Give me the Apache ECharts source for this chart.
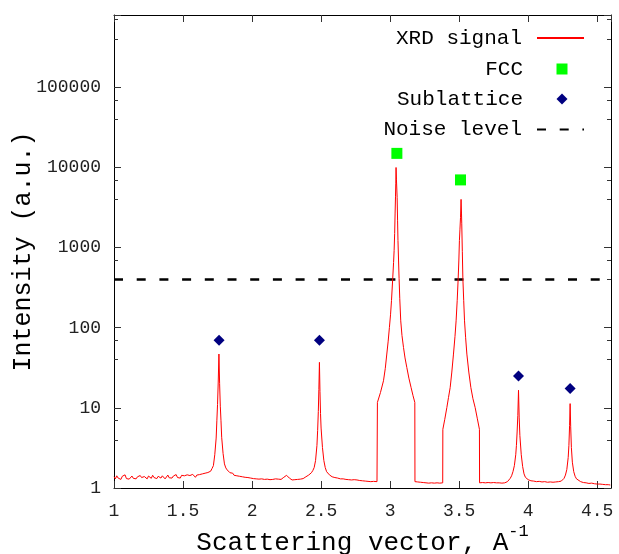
<!DOCTYPE html>
<html>
<head>
<meta charset="utf-8">
<script src="https://cdn.jsdelivr.net/npm/echarts@6/dist/echarts.min.js"></script>
<style>
  html, body { margin: 0; padding: 0; background: #fff; }
  #chart { width: 619px; height: 554px; }
</style>
</head>
<body>
<div id="chart"></div>
<script>
// XRD signal, [q, intensity]
const xrdSignal = [
  [1.00, 1.38], [1.01, 1.30], [1.02, 1.42], [1.03, 1.33], [1.04, 1.36], [1.05, 1.28], [1.06, 1.40],
  [1.07, 1.34], [1.08, 1.46], [1.09, 1.31], [1.10, 1.37], [1.11, 1.29], [1.12, 1.35], [1.13, 1.41],
  [1.14, 1.32], [1.15, 1.36], [1.16, 1.30], [1.17, 1.38], [1.18, 1.33], [1.19, 1.43], [1.20, 1.35],
  [1.21, 1.31], [1.22, 1.39], [1.23, 1.34], [1.24, 1.30], [1.25, 1.41], [1.26, 1.36], [1.27, 1.32],
  [1.28, 1.44], [1.29, 1.35], [1.30, 1.38], [1.31, 1.31], [1.32, 1.40], [1.33, 1.36], [1.34, 1.33],
  [1.35, 1.42], [1.36, 1.37], [1.37, 1.30], [1.38, 1.36], [1.39, 1.45], [1.40, 1.34], [1.41, 1.39],
  [1.42, 1.33], [1.43, 1.41], [1.44, 1.37], [1.45, 1.47], [1.46, 1.35], [1.47, 1.40], [1.48, 1.33],
  [1.49, 1.44], [1.50, 1.38], [1.51, 1.42], [1.52, 1.35], [1.53, 1.46], [1.54, 1.39], [1.55, 1.43],
  [1.56, 1.37], [1.57, 1.48], [1.58, 1.40], [1.59, 1.36], [1.60, 1.45], [1.61, 1.42], [1.62, 1.47],
  [1.63, 1.40], [1.64, 1.50], [1.65, 1.46], [1.66, 1.53], [1.67, 1.49], [1.68, 1.56], [1.69, 1.58],
  [1.70, 1.62], [1.71, 1.75], [1.72, 1.90], [1.73, 2.6], [1.74, 4.2], [1.745, 6.9], [1.75, 11],
  [1.755, 21], [1.76, 47], [1.765, 20], [1.77, 10.5], [1.775, 6.9], [1.78, 4.3], [1.79, 2.7],
  [1.80, 2.0], [1.81, 1.78], [1.82, 1.68], [1.83, 1.60], [1.84, 1.55], [1.85, 1.50], [1.86, 1.53],
  [1.87, 1.44], [1.88, 1.49], [1.89, 1.42], [1.90, 1.47], [1.91, 1.40], [1.92, 1.44], [1.93, 1.38],
  [1.94, 1.43], [1.95, 1.36], [1.96, 1.41], [1.97, 1.35], [1.98, 1.39], [1.99, 1.33], [2.00, 1.37],
  [2.01, 1.31], [2.02, 1.36], [2.03, 1.30], [2.04, 1.35], [2.05, 1.29], [2.06, 1.34], [2.07, 1.30],
  [2.08, 1.36], [2.09, 1.28], [2.10, 1.33], [2.11, 1.29], [2.12, 1.34], [2.13, 1.27], [2.14, 1.32],
  [2.15, 1.28], [2.16, 1.33], [2.17, 1.30], [2.18, 1.35], [2.19, 1.29], [2.20, 1.32], [2.21, 1.28],
  [2.22, 1.34], [2.23, 1.36], [2.24, 1.40], [2.25, 1.44], [2.26, 1.38], [2.27, 1.33], [2.28, 1.29],
  [2.29, 1.26], [2.30, 1.30], [2.31, 1.27], [2.32, 1.31], [2.33, 1.28], [2.34, 1.32], [2.35, 1.29],
  [2.36, 1.34], [2.37, 1.31], [2.38, 1.36], [2.39, 1.38], [2.40, 1.42], [2.41, 1.45], [2.42, 1.50],
  [2.43, 1.55], [2.44, 1.65], [2.45, 1.80], [2.46, 2.2], [2.47, 3.4], [2.475, 5.2], [2.48, 9],
  [2.484, 17], [2.488, 37], [2.492, 16], [2.496, 8.5], [2.50, 5.6], [2.51, 3.2], [2.52, 2.2],
  [2.53, 1.8], [2.54, 1.6], [2.55, 1.52], [2.56, 1.46], [2.57, 1.42], [2.58, 1.38], [2.59, 1.40],
  [2.60, 1.35], [2.61, 1.37], [2.62, 1.33], [2.63, 1.35], [2.64, 1.30], [2.65, 1.27], [2.66, 1.30],
  [2.67, 1.26], [2.68, 1.28], [2.69, 1.25], [2.70, 1.27], [2.71, 1.24], [2.72, 1.26], [2.73, 1.23],
  [2.74, 1.27], [2.75, 1.31], [2.76, 1.26], [2.77, 1.22], [2.78, 1.24], [2.79, 1.21], [2.80, 1.23],
  [2.81, 1.20], [2.82, 1.22], [2.83, 1.19], [2.84, 1.21], [2.85, 1.18], [2.86, 1.20], [2.87, 1.19],
  [2.88, 1.21], [2.89, 1.18], [2.905, 1.20],
  // first FCC reflection (clipped wings)
  [2.908, 11.7], [2.93, 15.5], [2.952, 21.8], [2.965, 31], [2.976, 47], [2.986, 68], [2.995, 101],
  [3.003, 145], [3.010, 218], [3.019, 413], [3.025, 650], [3.029, 917], [3.033, 1500], [3.036, 2630],
  [3.039, 4300], [3.041, 6250], [3.043, 10000], [3.046, 7000], [3.051, 4200], [3.054, 2200],
  [3.057, 1223], [3.061, 700], [3.065, 413], [3.070, 230], [3.077, 122], [3.086, 80], [3.097, 56.7],
  [3.108, 42], [3.121, 31.9], [3.136, 23.5], [3.152, 17.9], [3.166, 14.2], [3.179, 11.7],
  [3.180, 1.20], [3.19, 1.17], [3.20, 1.19], [3.21, 1.16], [3.22, 1.18], [3.23, 1.15], [3.24, 1.17],
  [3.25, 1.19], [3.26, 1.16], [3.27, 1.18], [3.28, 1.15], [3.29, 1.17], [3.30, 1.16], [3.31, 1.18],
  [3.32, 1.15], [3.33, 1.17], [3.34, 1.16], [3.35, 1.18], [3.36, 1.15], [3.37, 1.17], [3.381, 1.16],
  // second FCC reflection
  [3.382, 5.4], [3.396, 7.2], [3.411, 10.1], [3.423, 13.5], [3.435, 17.9], [3.447, 28], [3.459, 46.9],
  [3.470, 78], [3.478, 122], [3.486, 220], [3.493, 413], [3.498, 700], [3.502, 1223], [3.506, 1700],
  [3.510, 2390], [3.514, 4000], [3.517, 2700], [3.519, 1980], [3.523, 900], [3.527, 413],
  [3.533, 220], [3.539, 122], [3.547, 75], [3.556, 46.9], [3.570, 28], [3.585, 17.9], [3.600, 13],
  [3.616, 10.1], [3.632, 7.3], [3.647, 5.4],
  [3.648, 1.16], [3.66, 1.15], [3.67, 1.17], [3.68, 1.14], [3.69, 1.16], [3.70, 1.15], [3.71, 1.17],
  [3.72, 1.14], [3.73, 1.16], [3.74, 1.15], [3.75, 1.17], [3.76, 1.15], [3.77, 1.16], [3.78, 1.14],
  [3.79, 1.16], [3.80, 1.17], [3.81, 1.15], [3.82, 1.17], [3.83, 1.16], [3.84, 1.18], [3.85, 1.20],
  [3.86, 1.24], [3.87, 1.32], [3.88, 1.42], [3.89, 1.6], [3.90, 1.9], [3.91, 2.6], [3.915, 3.4],
  [3.92, 5], [3.925, 8], [3.93, 16.6], [3.935, 7.5], [3.94, 4.5], [3.95, 2.6], [3.96, 1.85],
  [3.97, 1.5], [3.98, 1.36], [3.99, 1.30], [4.00, 1.27], [4.01, 1.25], [4.02, 1.23], [4.04, 1.22],
  [4.06, 1.20], [4.08, 1.21], [4.10, 1.19], [4.12, 1.20], [4.14, 1.18], [4.16, 1.19], [4.18, 1.18],
  [4.20, 1.19], [4.22, 1.20], [4.24, 1.22], [4.25, 1.26], [4.26, 1.32], [4.27, 1.45], [4.28, 1.7],
  [4.29, 2.4], [4.295, 3.4], [4.30, 6], [4.304, 11.3], [4.308, 5.8], [4.313, 3.2], [4.32, 2.1],
  [4.33, 1.6], [4.34, 1.4], [4.35, 1.30], [4.36, 1.24], [4.38, 1.20], [4.40, 1.17], [4.42, 1.16],
  [4.44, 1.14], [4.46, 1.15], [4.48, 1.13], [4.50, 1.12], [4.52, 1.12], [4.54, 1.11], [4.56, 1.10],
  [4.58, 1.10], [4.595, 1.09]
]

const fccPoints = [[3.049, 15000], [3.51, 7000]]
const sublatticePoints = [[1.761, 70], [2.488, 70], [3.93, 25], [4.304, 17.5]]
const noiseLevel = 400

const xTicks = { min: 1, max: 4.6, interval: 0.5 }
const yRange = { min: 1, max: 800000 }

const mono = 'Liberation Mono'

const chart = echarts.init(document.getElementById('chart'))

const xBase = {
  type: 'value',
  min: xTicks.min,
  max: xTicks.max,
  interval: xTicks.interval,
  splitLine: { show: false },
  axisLine: { show: true, onZero: false, lineStyle: { color: '#000', width: 1 } },
  axisTick: { show: true, inside: true, length: 7, lineStyle: { color: '#333' } }
}
const yBase = {
  type: 'log',
  logBase: 10,
  min: yRange.min,
  max: yRange.max,
  splitLine: { show: false },
  axisLine: { show: true, lineStyle: { color: '#000', width: 1 } },
  axisTick: { show: true, inside: true, length: 7, lineStyle: { color: '#333' } },
  minorTick: { show: true, splitNumber: 3, length: 4, lineStyle: { color: '#333' } }
}

// one legend per row so the point symbols keep their own size
function legendRow(name, top, wide, extra) {
  return Object.assign({
    data: [name],
    orient: 'vertical',
    right: wide ? 29 : 46.5,
    top: top,
    align: 'right',
    itemWidth: wide ? 47 : 11,
    itemHeight: 11,
    selectedMode: false,
    textStyle: {
      fontFamily: mono, fontSize: 21, color: '#000',
      padding: [0, wide ? 10 : 28.5, 0, 0]
    }
  }, extra || {})
}

const option = {
  animation: false,
  backgroundColor: '#fff',
  grid: { left: 114, right: 8, top: 15, bottom: 66, containLabel: false, outerBoundsMode: 'none' },
  legend: [
    legendRow('XRD signal', 22.5, true, { data: [{ name: 'XRD signal', itemStyle: { opacity: 0 } }] }),
    legendRow('FCC', 53.5, false),
    legendRow('Sublattice', 83.5, false),
    legendRow('Noise level', 114, true, { data: [{ name: 'Noise level', itemStyle: { opacity: 0 } }] })
  ],
  xAxis: [
    Object.assign({}, xBase, {
      position: 'bottom',
      name: '{a|Scattering vector, A}{sup|-1}',
      nameLocation: 'middle',
      nameGap: 35,
      nameMoveOverlap: false,
      nameTextStyle: {
        rich: {
          a: { fontFamily: mono, fontSize: 26, color: '#000' },
          sup: { fontFamily: mono, fontSize: 17, color: '#000', verticalAlign: 'top', padding: [0, 0, 24, 0] }
        }
      },
      axisLabel: {
        fontFamily: mono, fontSize: 18, color: '#222', margin: 14,
        showMaxLabel: false,
        formatter: v => String(v)
      }
    }),
    Object.assign({}, xBase, { position: 'top', axisLabel: { show: false } })
  ],
  yAxis: [
    Object.assign({}, yBase, {
      position: 'left',
      name: 'Intensity (a.u.)',
      nameLocation: 'middle',
      nameGap: 78,
      nameMoveOverlap: false,
      nameTextStyle: { fontFamily: mono, fontSize: 25, color: '#000' },
      axisLabel: {
        fontFamily: mono, fontSize: 18, color: '#222', margin: 13,
        showMaxLabel: false,
        formatter: v => String(Math.round(v))
      }
    }),
    Object.assign({}, yBase, { position: 'right', axisLabel: { show: false } })
  ],
  series: [
    {
      name: 'XRD signal',
      type: 'line',
      data: xrdSignal,
      symbol: 'none',
      lineStyle: { color: '#ff0000', width: 1 },
      itemStyle: { color: '#ff0000' },
      z: 2
    },
    {
      name: 'FCC',
      type: 'scatter',
      data: fccPoints,
      symbol: 'rect',
      symbolSize: 11,
      itemStyle: { color: '#00ff00', opacity: 1 },
      z: 3
    },
    {
      name: 'Sublattice',
      type: 'scatter',
      data: sublatticePoints,
      symbol: 'diamond',
      symbolSize: 11,
      itemStyle: { color: '#000080', opacity: 1 },
      z: 3
    },
    {
      name: 'Noise level',
      type: 'line',
      data: [[xTicks.min, noiseLevel], [xTicks.max, noiseLevel]],
      symbol: 'none',
      lineStyle: { color: '#000', width: 2.5, type: [9, 13.7] },
      itemStyle: { color: '#000' },
      z: 1
    }
  ]
}

chart.setOption(option)
</script>
</body>
</html>
